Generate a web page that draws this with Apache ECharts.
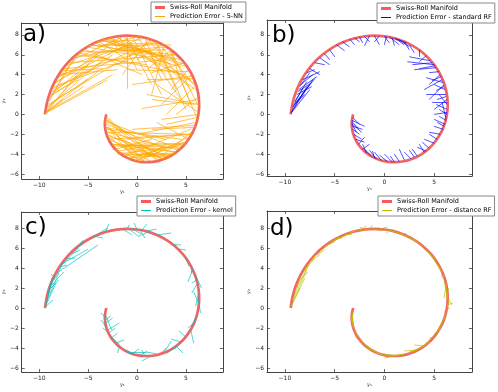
<!DOCTYPE html>
<html><head><meta charset="utf-8">
<script src="https://cdn.jsdelivr.net/npm/echarts@6/dist/echarts.min.js"></script>
<style>html,body{margin:0;padding:0;background:#fff}#c{width:498px;height:392px}</style>
</head><body><div id="c"></div>
<script>
const xTicks = [-10, -5, 0, 5];
const yTicks = [-6, -4, -2, 0, 2, 4, 6, 8];
// Swiss-roll manifold
const manifoldX = [-3.14,-3.24,-3.29,-3.27,-3.17,-3.01,-2.78,-2.47,-2.09,-1.65,-1.15,-0.60,0.00,0.63,1.29,1.95,2.62,3.27,3.89,4.47,4.99,5.44,5.82,6.10,6.28,6.36,6.32,6.17,5.89,5.50,5.00,4.38,3.67,2.86,1.97,1.01,0.00,-1.04,-2.10,-3.16,-4.19,-5.18,-6.11,-6.96,-7.71,-8.34,-8.85,-9.21,-9.42];
const manifoldY = [0.00,-0.43,-0.88,-1.35,-1.83,-2.31,-2.78,-3.22,-3.63,-3.99,-4.30,-4.54,-4.71,-4.80,-4.80,-4.72,-4.53,-4.26,-3.89,-3.43,-2.88,-2.25,-1.56,-0.80,0.00,0.84,1.69,2.55,3.40,4.22,5.00,5.71,6.35,6.89,7.33,7.66,7.85,7.92,7.84,7.62,7.26,6.75,6.11,5.34,4.45,3.46,2.37,1.21,0.00];
// error segments [xTrue, yTrue, xPred, yPred]
const errA = [
[-9.4,0.1,-3.0,3.5],[-9.3,0.3,-4.0,4.3],[-9.2,0.5,-5.0,5.0],[-9.3,0.2,-6.0,4.2],[-9.1,1.0,-2.0,5.2],[-9.0,1.3,-7.0,4.8],
[-8.8,2.0,-4.5,5.5],[-8.6,2.6,-1.0,6.2],[-8.4,3.1,-3.0,6.8],[-8.2,3.5,-5.5,6.5],[-8.8,2.0,-6.0,3.5],[-9.4,0.05,-7.6,1.5],
[-9.2,0.8,-5.0,3.6],[-7.9,4.0,1.5,6.5],[-7.5,4.6,3.0,5.5],[-7.0,5.2,4.0,6.0],[-6.5,5.7,2.0,7.2],[-6.0,6.2,5.0,4.0],
[-5.5,6.6,0.5,4.0],[-5.0,6.9,3.5,7.0],[-4.5,7.2,4.5,4.8],[-4.0,7.4,-1.0,5.5],[-3.5,7.6,5.5,3.5],[-3.0,7.7,2.5,5.0],
[-2.5,7.8,-2.0,6.5],[-6.8,5.4,-1.5,7.8],[-7.3,4.9,-0.5,7.0],[-7.7,4.4,-3.5,4.6],[-1.0,7.9,-1.0,2.6],[-0.5,7.9,2.5,2.0],
[0.0,7.85,4.5,1.5],[-1.5,7.9,3.0,4.0],[0.5,7.8,-3.0,6.0],[1.0,7.7,5.5,2.5],[1.5,7.5,-2.0,5.0],[2.0,7.3,5.0,0.5],
[-1.2,7.9,1.5,3.0],[2.5,7.0,0.0,5.5],[3.0,6.8,-4.5,6.2],[3.5,6.5,1.0,4.5],[4.5,5.5,-2.0,7.0],[5.0,5.0,0.5,6.5],
[5.5,4.3,-1.0,4.5],[5.8,3.6,1.0,3.5],[6.0,3.0,0.0,7.0],[6.2,2.3,2.0,5.5],[6.3,1.5,0.5,0.6],[6.3,0.8,3.5,6.3],
[6.3,0.2,2.0,3.0],[6.2,-0.5,4.0,4.5],[6.0,1.0,1.5,1.5],[5.9,2.8,3.0,0.0],[5.6,4.0,2.5,1.0],[6.1,-0.8,0.0,-2.0],
[5.9,-1.3,1.5,-1.5],[5.6,-2.0,-1.0,-2.5],[5.3,-2.5,2.0,-0.8],[5.0,-2.9,0.0,-3.0],[4.5,-3.4,-2.5,-3.0],[6.2,-0.3,3.0,-1.0],
[-3.2,-0.2,-1.0,-2.0],[-3.2,-0.5,1.0,-3.0],[-3.3,-0.9,3.0,-3.5],[-3.2,-1.5,4.5,-2.5],[-3.1,-2.0,2.0,-4.2],[-2.9,-2.5,5.0,-2.0],
[-2.6,-3.0,4.0,-3.8],[-2.2,-3.5,1.5,-2.5],[-1.8,-3.9,3.5,-4.3],[-1.3,-4.2,5.5,-1.5],[-0.8,-4.5,2.5,-3.5],[-0.3,-4.65,4.5,-3.0],
[0.3,-4.75,-2.5,-2.0],[0.8,-4.8,-3.0,-1.2],[1.5,-4.75,-2.0,-3.0],[2.0,-4.6,-3.1,-0.6],[2.7,-4.5,-1.5,-3.2],[3.3,-4.2,-2.8,-2.2],
[3.8,-3.9,0.0,-4.0],[-3.2,-1.2,0.5,-4.3],[-3.0,-2.2,-0.5,-4.0],[4.3,-3.6,-3.0,-1.8],[5.2,-2.7,-1.0,-4.4],[-1.5,-4.1,3.5,-4.0],
[-9.35,0.2,-2.5,4.0],[-9.25,0.6,-3.5,5.5],[-9.0,1.5,-6.5,5.5],[-8.9,1.8,-2.5,6.0],[-8.7,2.3,-5.0,4.5],[-8.5,2.8,0.0,5.8],
[-8.3,3.3,-1.5,6.8],[-8.1,3.7,-4.0,5.8],[-7.9,4.0,-2.0,4.5],[-9.35,0.2,-5.5,2.8],[-6.2,6.0,1.0,5.0],[-5.8,6.3,3.0,6.5],
[-5.2,6.8,-0.5,6.0],[-4.8,7.0,2.0,6.0],[-4.2,7.3,0.5,7.5],[-3.8,7.5,4.0,5.5],[-3.3,7.6,1.0,6.3],[-2.8,7.7,5.0,4.8],
[-2.2,7.8,3.5,5.0],[-1.8,7.85,0.0,4.5],[0.2,7.85,-4.0,6.8],[0.8,7.7,2.5,3.5],[1.2,7.6,-1.5,4.0],[1.8,7.4,4.0,2.5],
[2.2,7.2,-3.5,7.0],[2.8,6.9,1.5,2.0],[3.3,6.6,5.5,1.0],[4.0,6.0,-1.0,6.5],[4.8,5.2,1.5,4.2],[5.3,4.6,3.5,2.5],
[5.7,3.9,-0.5,3.0],[6.1,2.7,2.5,6.8],[6.3,1.8,4.0,0.0],[6.35,1.0,1.0,2.0],[6.3,0.0,2.5,-0.5],[-3.25,-0.4,2.5,-4.5],
[-3.3,-0.7,4.5,-3.5],[-3.25,-1.3,3.0,-2.5],[-3.1,-1.8,5.5,-2.0],[-2.8,-2.6,3.0,-4.5],[-2.4,-3.2,5.0,-3.0],[-2.0,-3.7,2.0,-3.0],
[-1.0,-4.4,4.0,-4.0],[0.0,-4.7,3.0,-3.0],[1.0,-4.8,-2.5,-3.5],[2.3,-4.6,-2.0,-2.2],[3.0,-4.3,-3.2,-1.3],[4.0,-3.8,-1.0,-3.0],
[4.8,-3.1,-2.0,-4.0],[5.5,-2.2,0.5,-4.6],[6.0,-1.1,-0.5,-1.5],[5.8,-1.6,2.5,-4.2]
];
const errB = [
[-9.4,0.1,-7.5,2.5],[-9.2,0.8,-7.0,3.6],[-9.0,1.3,-7.8,3.3],[-8.8,2.0,-7.3,2.8],[-8.5,2.8,-7.5,4.2],[-9.1,1.0,-8.0,2.0],
[-9.3,0.3,-7.2,3.5],[-7.5,4.6,-6.5,4.0],[-7.0,5.2,-6.0,5.0],[-6.5,5.7,-5.5,5.0],[-6.0,6.1,-5.5,5.5],[-5.5,6.5,-5.0,5.8],
[-4.8,7.0,-4.0,6.4],[-4.2,7.3,-3.5,6.8],[-3.5,7.6,-3.0,7.0],[-7.8,4.2,-7.0,4.5],[-8.2,3.5,-6.5,4.3],[-2.0,7.85,-1.5,7.3],
[-1.5,7.9,-2.0,6.9],[-1.0,7.9,-0.5,7.0],[0.0,7.85,0.5,7.2],[0.5,7.8,1.5,7.0],[1.0,7.7,2.0,7.0],[1.5,7.5,2.5,6.8],
[2.0,7.3,2.5,6.5],[-0.5,7.9,-1.0,7.3],[2.5,7.0,3.0,6.2],[3.5,6.5,3.5,5.8],[5.0,5.0,2.3,5.3],[4.6,5.4,2.5,5.8],
[4.2,5.9,3.5,5.3],[5.2,4.7,3.0,4.5],[5.6,4.0,4.5,3.0],[5.8,3.5,4.0,2.5],[6.0,3.0,4.5,1.5],[6.1,2.5,5.0,3.0],
[6.2,2.0,4.2,2.0],[6.3,1.5,5.0,0.5],[6.3,1.0,5.5,2.0],[6.3,0.5,5.2,1.0],[6.3,0.0,5.5,0.5],[6.2,-0.5,5.8,1.2],
[5.5,4.3,4.5,4.2],[5.9,3.2,4.2,3.7],[6.1,-1.0,5.0,-0.5],[5.9,-1.5,5.0,-1.2],[5.6,-2.0,4.5,-1.8],[5.3,-2.5,4.5,-2.0],
[5.0,-2.9,4.0,-2.5],[4.5,-3.4,3.8,-2.8],[4.0,-3.8,3.5,-3.0],[3.3,-4.2,2.8,-3.5],[2.7,-4.5,2.0,-3.8],[2.0,-4.6,1.5,-3.5],
[1.5,-4.75,1.0,-4.0],[0.8,-4.8,0.0,-4.0],[0.3,-4.75,-0.5,-4.1],[-0.3,-4.65,-1.0,-3.8],[-0.8,-4.5,-1.5,-3.6],[-1.3,-4.2,-2.0,-3.5],
[-1.8,-3.9,-2.2,-3.0],[-2.2,-3.5,-1.5,-3.0],[-2.6,-3.0,-2.0,-2.3],[-3.2,-0.3,-2.5,-1.0],[-3.25,-0.6,-2.0,-1.2],[-3.3,-0.9,-2.3,-1.8],
[-3.2,-1.5,-2.5,-2.0],[-3.1,-2.0,-2.3,-2.5],[-3.25,-1.0,-2.8,-1.8],[-2.9,-2.5,-2.0,-2.8],
[-9.35,0.2,-7.8,2.8],[-9.2,0.7,-7.4,3.2],[-9.0,1.2,-8.2,2.6],[-8.7,2.3,-7.6,3.0],[-8.6,2.5,-6.8,3.8],[-8.4,3.0,-7.2,4.0],
[-3.0,7.7,-2.5,7.3],[-2.5,7.8,-2.2,7.2],[0.2,7.85,0.0,7.0],[0.8,7.7,1.0,6.9],[1.2,7.6,2.2,7.2],[5.1,4.9,3.5,4.6],
[4.8,5.2,2.8,5.0],[5.7,3.8,4.8,3.4],[6.0,2.8,5.2,2.4],[6.2,1.8,5.3,1.5],[6.3,1.2,4.8,1.2],[6.3,0.2,5.0,0.0],
[6.2,-0.6,5.5,-0.2],[6.0,-1.2,5.3,-0.8],[4.2,-3.7,3.3,-3.3],[3.0,-4.3,2.5,-3.6],[1.0,-4.8,0.6,-4.2],[-1.0,-4.4,-1.2,-3.7],
[-3.2,-1.2,-2.2,-1.5],[-3.3,-0.7,-2.6,-1.4]
];
const errC = [
[-9.4,0.1,-8.6,0.8],[-9.3,0.4,-8.7,3.0],[-9.1,1.0,-8.0,3.5],[-8.8,2.0,-8.0,2.8],[-8.5,2.8,-7.8,4.0],[-9.0,1.5,-8.5,3.2],
[-8.2,3.5,-4.0,6.3],[-7.7,4.4,-5.0,5.9],[-8.0,4.0,-6.0,6.0],[-7.3,4.9,-6.3,5.0],[-6.8,5.4,-5.8,5.8],[-6.3,5.9,-5.5,6.8],
[-5.5,6.6,-6.2,6.0],[-4.5,7.2,-3.5,7.0],[-4.0,7.4,-3.0,8.0],[-3.2,7.6,-2.9,8.4],[-1.5,7.9,-0.5,7.3],[-1.0,7.9,-0.8,8.3],
[-0.5,7.9,0.5,7.4],[0.0,7.85,-0.3,8.5],[0.5,7.8,1.0,8.4],[1.0,7.7,2.0,7.9],[2.0,7.3,3.5,7.5],[-0.8,7.9,0.2,7.1],
[0.3,7.8,0.8,7.0],[1.2,7.6,0.2,7.2],[3.7,6.35,4.5,6.3],[4.2,5.9,5.0,5.8],[5.0,5.0,5.3,4.2],[5.5,4.3,5.5,3.5],
[5.9,3.4,6.6,2.0],[6.2,2.5,5.6,1.5],[6.1,2.8,5.6,2.5],[6.3,1.5,6.0,0.2],[6.3,0.8,6.5,-0.5],[6.3,0.5,5.8,1.6],
[5.7,3.8,5.2,2.6],[6.1,-0.8,5.6,-1.8],[5.8,-1.5,5.2,-2.0],[5.5,-2.2,5.8,-3.5],[5.0,-2.9,4.3,-2.3],[4.5,-3.4,3.5,-3.1],
[4.0,-3.8,4.7,-4.5],[3.3,-4.2,4.0,-4.0],[2.8,-4.4,3.5,-3.3],[2.0,-4.6,1.0,-4.4],[1.5,-4.75,0.5,-5.3],[0.8,-4.8,0.5,-4.2],
[0.3,-4.75,1.0,-4.3],[-1.0,-4.4,1.0,-4.4],[-1.3,-4.2,-0.5,-4.6],[-1.8,-3.9,-2.0,-4.5],[-2.2,-3.5,-1.3,-3.2],[-2.6,-3.0,-2.0,-2.5],
[-2.9,-2.5,-2.2,-2.0],[-3.1,-2.0,-3.7,-1.2],[-3.3,-0.9,-3.7,-0.5],[-3.2,-1.5,-2.5,-1.0],[-3.0,-2.2,-1.8,-1.5],[-3.25,-0.6,-2.6,-2.2],
[-2.8,-2.7,-2.2,-3.3],[-9.35,0.2,-8.3,2.5],[-9.2,0.7,-8.9,2.4],[-8.7,2.3,-7.5,3.6],[-8.4,3.0,-8.8,3.4],[-7.9,4.1,-7.2,4.3],
[-3.25,-1.2,-2.7,-0.8],[-3.0,-2.4,-3.5,-2.0],[-2.4,-3.2,-1.8,-3.6],[-0.5,-4.6,0.2,-4.1],[2.4,-4.55,3.0,-4.0],[3.6,-4.05,3.0,-4.6]
];
const errD = [
[-9.3,0.3,-8.0,3.0],[-9.1,1.0,-7.8,3.8],[-9.4,0.1,-8.5,2.0],[-8.8,2.0,-7.5,4.5],[-8.5,2.8,-7.7,3.6],[-8.2,3.5,-7.0,5.0],
[-7.5,4.6,-6.5,5.3],[-7.0,5.2,-6.0,5.8],[-6.0,6.2,-5.0,6.6],[-5.0,6.9,-4.2,7.0],[-4.0,7.4,-3.3,7.4],[-2.5,7.8,-1.8,8.2],
[-1.5,7.9,-1.2,8.3],[-1.0,7.9,-0.3,7.7],[-0.5,7.9,0.3,8.1],[0.0,7.85,1.0,7.6],[0.5,7.8,0.2,7.4],[1.0,7.7,1.8,7.3],
[1.5,7.5,2.2,7.5],[2.5,7.0,3.2,6.8],[-2.0,7.85,-2.5,8.1],[3.5,6.5,4.2,6.0],[4.2,5.9,4.8,5.2],[4.8,5.2,5.4,4.5],
[5.4,4.4,5.7,3.7],[5.7,3.8,5.8,3.0],[6.3,1.0,6.8,0.3],[6.3,0.3,6.9,0.5],[6.2,2.0,6.4,1.0],[6.1,2.5,6.3,1.3],
[6.3,0.0,6.5,0.9],[6.0,-0.3,6.6,0.0],[6.3,1.5,6.5,2.0],[6.2,2.3,6.0,1.0],[6.1,-0.8,5.8,-1.5],[5.8,-1.5,5.5,-2.3],
[5.5,-2.2,5.0,-2.6],[5.0,-2.9,4.5,-3.0],[4.0,-3.8,3.0,-3.7],[3.8,-3.9,2.5,-4.4],[3.5,-4.1,4.5,-3.3],[3.0,-4.3,4.2,-3.6],
[3.3,-4.2,2.0,-4.3],[2.0,-4.6,1.0,-4.8],[1.0,-4.8,0.0,-5.0],[0.5,-4.8,-0.5,-4.6],[-0.5,-4.6,-1.5,-4.1],[-1.3,-4.2,-2.0,-3.9],
[-1.8,-3.9,-1.0,-4.3],[-2.2,-3.5,-2.8,-3.0],[-2.6,-3.0,-3.0,-2.3],[-3.0,-2.2,-3.2,-1.3],[-3.2,-1.5,-3.3,-0.6],[-3.2,-0.5,-3.3,-1.5],
[-3.3,-0.9,-3.1,-2.0],[-6.5,5.7,-4.5,7.2],[-3.5,7.6,-1.0,7.95],[1.5,7.5,3.5,6.5],[4.5,5.5,5.8,3.6],[5.9,3.4,6.3,1.0],
[6.2,-0.5,5.2,-2.6],[4.6,-3.4,2.5,-4.6],[1.5,-4.8,-1.0,-4.5],[-1.8,-3.9,-2.9,-2.4],[-3.1,-2.0,-3.25,-0.4],[-9.2,0.8,-8.4,3.2],
[-8.0,3.9,-6.8,5.5],[-5.5,6.6,-3.0,7.7],[0.5,7.8,2.5,7.1],[3.0,6.8,4.8,5.2],[5.6,-2.0,4.0,-3.8],[2.5,-4.5,0.5,-4.85],
[-0.5,-4.6,-2.2,-3.5]
];
const manifoldName = 'Swiss-Roll Manifold';
const errNames = ['Prediction Error - 5-NN', 'Prediction Error - standard RF', 'Prediction Error - kernel', 'Prediction Error - distance RF'];
const panelLabels = ['a)', 'b)', 'c)', 'd)'];

const errSets = [errA, errB, errC, errD];
const errColors = ['#ffa500', '#0000ff', '#00bfbf', '#bfbf00'];
const manifoldColor = '#f04a4a';
const FONT = 'DejaVu Sans';

const layout = [
  {grid: {left: 19, top: 23, width: 204, height: 156}, y: [-6.5, 9.2], legend: {left: 151, top: 2}, title: {left: 23, top: 24}},
  {grid: {left: 267, top: 20, width: 205, height: 156}, y: [-6.2, 9.5], legend: {left: 377, top: 3}, title: {left: 272, top: 25}},
  {grid: {left: 19, top: 212, width: 204, height: 160}, y: [-6.4, 9.6], legend: {left: 137, top: 196}, title: {left: 25, top: 217}},
  {grid: {left: 267, top: 211, width: 205, height: 161}, y: [-6.4, 9.7], legend: {left: 378, top: 196}, title: {left: 270, top: 218}}
];

const chart = echarts.init(document.getElementById('c'), null, {renderer: 'canvas'});
const grids = [], xAxes = [], yAxes = [], series = [], legends = [], titles = [];
const lineCol = '#444';
const minus = v => String(v).replace('-', '\u2212');
const thickIcon = 'path://M0,0L10,0L10,3L0,3Z';
const thinIcon = 'path://M0,0L10,0L10,1L0,1Z';

layout.forEach((p, i) => {
  grids.push(Object.assign({}, p.grid));
  const tick = vals => ({show: true, inside: true, length: 3, customValues: vals, lineStyle: {color: lineCol, width: 0.8}});
  const axLine = {show: true, onZero: false, lineStyle: {color: lineCol, width: 1}};
  xAxes.push({type: 'value', gridIndex: i, position: 'bottom', min: -11.8, max: 8.8,
    name: 'y\u2081', nameLocation: 'middle', nameGap: 9,
    nameTextStyle: {fontSize: 5, fontFamily: FONT, color: '#333'},
    axisLine: axLine, axisTick: tick(xTicks),
    axisLabel: {customValues: xTicks, fontSize: 6, fontFamily: FONT, color: '#222', margin: 3, formatter: minus},
    splitLine: {show: false}});
  xAxes.push({type: 'value', gridIndex: i, position: 'top', min: -11.8, max: 8.8,
    axisLine: axLine, axisTick: tick(xTicks), axisLabel: {show: false}, splitLine: {show: false}});
  yAxes.push({type: 'value', gridIndex: i, position: 'left', min: p.y[0], max: p.y[1],
    name: 'y\u2082', nameLocation: 'middle', nameGap: 11, nameRotate: 90,
    nameTextStyle: {fontSize: 5, fontFamily: FONT, color: '#333'},
    axisLine: axLine, axisTick: tick(yTicks),
    axisLabel: {customValues: yTicks, fontSize: 6, fontFamily: FONT, color: '#222', margin: 3, formatter: minus},
    splitLine: {show: false}});
  yAxes.push({type: 'value', gridIndex: i, position: 'right', min: p.y[0], max: p.y[1],
    axisLine: axLine, axisTick: tick(yTicks), axisLabel: {show: false}, splitLine: {show: false}});

  series.push({type: 'line', name: manifoldName, xAxisIndex: 2 * i, yAxisIndex: 2 * i,
    data: manifoldX.map((x, k) => [x, manifoldY[k]]), smooth: 0.3, symbol: 'none',
    lineStyle: {color: manifoldColor, width: 2.7, opacity: 0.85}, itemStyle: {color: manifoldColor},
    z: 2, silent: true, animation: false});
  series.push({type: 'lines', name: errNames[i], coordinateSystem: 'cartesian2d', xAxisIndex: 2 * i, yAxisIndex: 2 * i,
    data: errSets[i].map(s => ({coords: [[s[0], s[1]], [s[2], s[3]]]})),
    lineStyle: {color: errColors[i], width: 0.8, opacity: 0.85},
    z: 3, silent: true, animation: false});

  legends.push({left: p.legend.left, top: p.legend.top, orient: 'vertical', selectedMode: false,
    backgroundColor: '#fff', borderColor: '#888', borderWidth: 1, borderRadius: 0, padding: [2, 3, 2, 4],
    itemWidth: 10, itemHeight: 7, itemGap: 2, symbolKeepAspect: true,
    textStyle: {fontSize: 6.5, fontFamily: FONT, color: '#000'},
    data: [
      {name: manifoldName, icon: thickIcon, itemStyle: {color: manifoldColor, opacity: 0.9, borderWidth: 0}},
      {name: errNames[i], icon: thinIcon, itemStyle: {color: errColors[i], borderWidth: 0}}
    ]});
  titles.push({text: panelLabels[i], left: p.title.left, top: p.title.top, padding: 0,
    textStyle: {fontSize: 23, fontWeight: 'normal', fontFamily: FONT, color: '#000'}});
});

chart.setOption({
  animation: false,
  backgroundColor: '#fff',
  title: titles,
  legend: legends,
  grid: grids,
  xAxis: xAxes,
  yAxis: yAxes,
  series: series
});
</script>
</body></html>
